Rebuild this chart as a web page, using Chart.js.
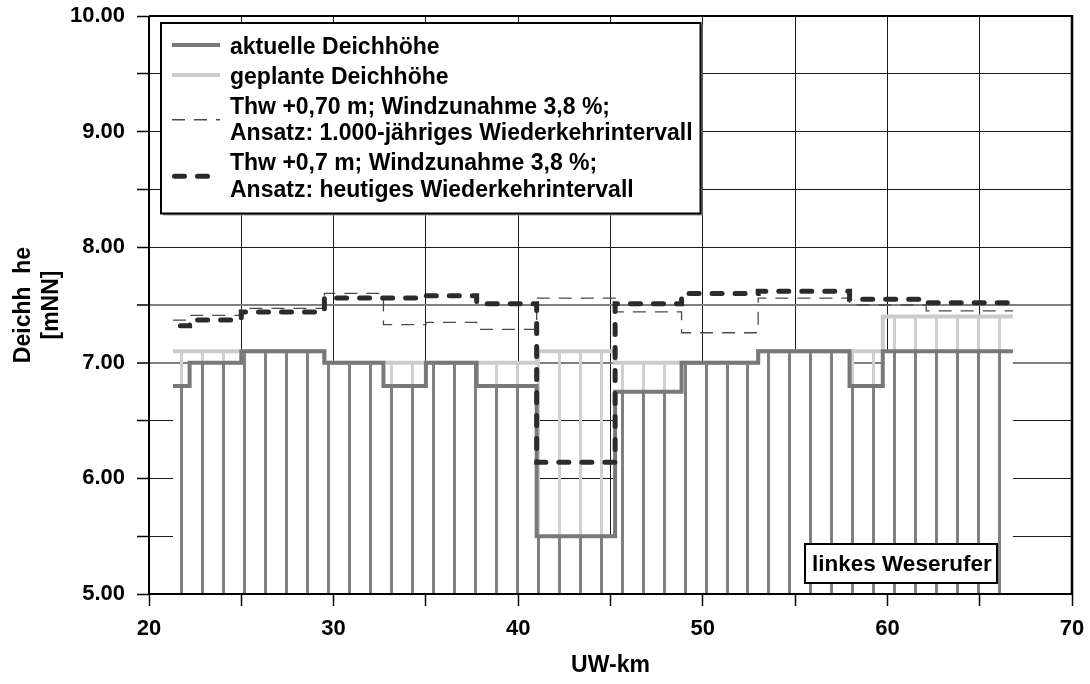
<!DOCTYPE html>
<html lang="de">
<head>
<meta charset="utf-8">
<title>Deichhöhen linkes Weserufer</title>
<style>
  html, body { margin: 0; padding: 0; background: #fff; }
  #wrap { width: 1090px; height: 684px; }
</style>
<script src="https://cdn.jsdelivr.net/npm/chart.js@4.4.1/dist/chart.umd.min.js"></script>
</head>
<body>
<div id="wrap"><canvas id="chart" width="1090" height="684"></canvas></div>
<script>
// Deichabschnitte: Grenzen in UW-km, je Abschnitt eine Höhe [mNN]
const kmDike        = [21.3, 22.2, 25.0, 29.5, 32.7, 35.0, 37.75, 41.0, 45.25, 48.85, 53.0, 57.95, 59.75, 66.8];
const currentHeight = [6.80, 7.00, 7.10, 7.00, 6.80, 7.00, 6.80, 5.50, 6.75, 7.00, 7.10, 6.80, 7.10];
const plannedHeight = [7.10, 7.10, 7.10, 7.00, 7.00, 7.00, 7.00, 7.10, 7.00, 7.00, 7.10, 7.10, 7.40];

// Bemessungswasserstände (Thw +0,70 m, Windzunahme 3,8 %)
const kmLevel1000   = [21.3, 22.2, 25.0, 29.5, 32.7, 35.0, 37.75, 41.0, 45.25, 48.85, 53.0, 57.95, 62.1, 66.8];
const level1000     = [7.37, 7.41, 7.47, 7.60, 7.33, 7.35, 7.29, 7.56, 7.44, 7.26, 7.56, 7.50, 7.45];
const kmLevelToday  = [21.7, 22.2, 25.0, 29.5, 35.0, 37.75, 41.0, 45.25, 48.85, 53.0, 57.95, 62.1, 66.8];
const levelToday    = [7.32, 7.37, 7.44, 7.56, 7.58, 7.51, 6.14, 7.51, 7.60, 7.62, 7.55, 7.52];

// Achsen
const xRange = [20, 70];
const yRange = [5, 10];
const xLabelKm = [20, 30, 40, 50, 60, 70];
const yLabelValues = [5, 6, 7, 8, 9, 10];

const seriesLabels = [
  'aktuelle Deichhöhe',
  'geplante Deichhöhe',
  'Thw +0,70 m; Windzunahme 3,8 %;\nAnsatz: 1.000-jähriges Wiederkehrintervall',
  'Thw +0,7 m; Windzunahme 3,8 %;\nAnsatz: heutiges Wiederkehrintervall'
];
const boxLabel = 'linkes Weserufer';

const FONT = 'Arial, "Liberation Sans", sans-serif';

// step series: one point per boundary, last value held to the end
function steps(km, values) {
  return km.map((x, i) => ({ x, y: values[Math.min(i, values.length - 1)] }));
}

// vertical hatching used to fill the dike profile
const HATCH_PITCH = 20.97;
const HATCH_PHASE = 8.8;
function hatch(chart, color, paper) {
  const xs = chart.scales && chart.scales.x;
  if (!xs || !chart.chartArea) return paper ? '#ffffff' : 'rgba(0,0,0,0)';
  const c = document.createElement('canvas');
  c.width = chart.width;
  c.height = 4;
  const g = c.getContext('2d');
  if (paper) { g.fillStyle = '#ffffff'; g.fillRect(0, 0, c.width, c.height); }
  g.fillStyle = color;
  for (let x = xs.getPixelForValue(kmDike[0]) + HATCH_PHASE; x < c.width; x += HATCH_PITCH) {
    g.fillRect(Math.round(x - 1.5), 0, 3, c.height);
  }
  return chart.ctx.createPattern(c, 'repeat');
}

// frame, legend box and the river-bank label
const decorations = {
  id: 'decorations',
  afterDatasetsDraw(chart) {
    const { ctx, chartArea: a } = chart;
    ctx.save();

    // plot frame
    ctx.strokeStyle = '#000';
    ctx.lineWidth = 2;
    ctx.beginPath();
    ctx.moveTo(a.left, a.top); ctx.lineTo(a.left, a.bottom); ctx.lineTo(a.right, a.bottom);
    ctx.moveTo(a.left, a.top); ctx.lineTo(a.right, a.top);
    ctx.stroke();
    ctx.lineWidth = 2.5;
    ctx.beginPath(); ctx.moveTo(a.right, a.top - 1); ctx.lineTo(a.right, a.bottom + 1); ctx.stroke();

    // legend
    ctx.font = 'bold 23px ' + FONT;
    const ds = chart.data.datasets;
    const items = ds.map(d => d.label.split('\n'));
    const textW = Math.max(...items.flat().map(t => ctx.measureText(t).width));
    const L = a.left + 12, T = a.top + 7;
    const textX = L + 69;
    const W = Math.max(textX - L + textW + 8, 539);
    const rows = [];
    let y = T + 24.5;
    items.forEach((lines, i) => {
      const ys = lines.map((_, k) => y + k * 26.5);
      rows.push({ i, lines, ys });
      y = ys[ys.length - 1] + 30;
    });
    const last = rows[rows.length - 1];
    const H = last.ys[last.ys.length - 1] + 23 - T;

    ctx.fillStyle = '#9a9a9a';
    ctx.fillRect(L + 2, T + 2, W, H);
    ctx.fillStyle = '#fff';
    ctx.fillRect(L, T, W, H);
    ctx.strokeStyle = '#000';
    ctx.lineWidth = 2;
    ctx.strokeRect(L, T, W, H);

    ctx.textBaseline = 'middle';
    ctx.textAlign = 'left';
    rows.forEach(r => {
      const d = ds[r.i];
      const sy = r.lines.length > 1 ? (r.ys[0] + r.ys[r.ys.length - 1]) / 2 - 1 : r.ys[0] - 2.5;
      ctx.save();
      ctx.strokeStyle = d.borderColor;
      ctx.lineWidth = d.borderWidth;
      ctx.lineCap = d.borderCapStyle || 'butt';
      ctx.setLineDash(d.borderDash || []);
      ctx.beginPath();
      ctx.moveTo(L + 11 + (d.borderCapStyle === 'round' ? d.borderWidth / 2 : 0), sy);
      ctx.lineTo(L + 59, sy);
      ctx.stroke();
      ctx.restore();
      ctx.fillStyle = '#000';
      r.lines.forEach((t, k) => ctx.fillText(t, textX, r.ys[k]));
    });

    // river-bank label
    const bw = 192, bh = 39;
    const bx = a.right - 267, by = a.bottom - 50;
    ctx.fillStyle = '#fff';
    ctx.fillRect(bx, by, bw, bh);
    ctx.strokeStyle = '#000';
    ctx.lineWidth = 2;
    ctx.strokeRect(bx, by, bw, bh);
    ctx.fillStyle = '#000';
    ctx.font = 'bold 22.5px ' + FONT;
    ctx.fillText(boxLabel, bx + 7, by + bh / 2 + 1);

    ctx.restore();
  }
};

const grayGrid = v => v === 7 || v === 7.5;

new Chart(document.getElementById('chart'), {
  type: 'line',
  data: {
    datasets: [
      {
        label: seriesLabels[0],
        data: steps(kmDike, currentHeight),
        borderColor: '#787878',
        borderWidth: 4,
        backgroundColor: c => hatch(c.chart, '#808080', true),
        fill: 'start',
        stepped: true,
        order: 2
      },
      {
        label: seriesLabels[1],
        data: steps(kmDike, plannedHeight),
        borderColor: '#cccccc',
        borderWidth: 4,
        backgroundColor: c => hatch(c.chart, '#d0d0d0', false),
        fill: { target: 0, below: 'rgba(0,0,0,0)' },
        stepped: true,
        order: 3
      },
      {
        label: seriesLabels[2],
        data: steps(kmLevel1000, level1000),
        borderColor: '#4a4a4a',
        borderWidth: 1.3,
        borderDash: [13, 9],
        fill: false,
        stepped: true,
        order: 1
      },
      {
        label: seriesLabels[3],
        data: steps(kmLevelToday, levelToday),
        borderColor: '#2b2b2b',
        borderWidth: 5,
        borderDash: [10, 13],
        borderCapStyle: 'round',
        fill: false,
        stepped: true,
        order: 0
      }
    ]
  },
  options: {
    responsive: false,
    animation: false,
    events: [],
    devicePixelRatio: 1,
    layout: { padding: { top: 16, right: 18, left: 0, bottom: 0 } },
    elements: { point: { radius: 0 }, line: { tension: 0, borderJoinStyle: 'miter' } },
    plugins: {
      legend: { display: false },
      tooltip: { enabled: false },
      filler: { drawTime: 'beforeDatasetsDraw' }
    },
    scales: {
      x: {
        type: 'linear',
        min: xRange[0],
        max: xRange[1],
        afterFit: s => { s.height = 90; s.paddingLeft = 0; s.paddingRight = 0; },
        border: { display: false },
        grid: { color: '#1a1a1a', lineWidth: 1, tickLength: 12, tickColor: '#000', tickWidth: 1.5 },
        ticks: {
          stepSize: 5,
          autoSkip: false,
          maxRotation: 0,
          padding: 10,
          color: '#000',
          font: { family: FONT, size: 22, weight: 'bold' },
          callback: v => xLabelKm.includes(v) ? String(v) : ''
        },
        title: {
          display: true,
          text: 'UW-km',
          color: '#000',
          font: { family: FONT, size: 23, weight: 'bold' },
          padding: { top: 0, bottom: 5 }
        }
      },
      y: {
        min: yRange[0],
        max: yRange[1],
        afterFit: s => { s.width = 149; s.paddingTop = 0; s.paddingBottom = 0; },
        border: { display: false },
        grid: {
          color: c => (c.tick && grayGrid(c.tick.value)) ? '#808080' : '#1a1a1a',
          lineWidth: c => (c.tick && grayGrid(c.tick.value)) ? 2 : 1,
          tickLength: 12,
          tickColor: '#000',
          tickWidth: 1.5
        },
        ticks: {
          stepSize: 0.5,
          autoSkip: false,
          padding: 12,
          color: '#000',
          font: { family: FONT, size: 22, weight: 'bold' },
          callback: v => yLabelValues.includes(v) ? v.toFixed(2) : ''
        },
        title: {
          display: true,
          text: ['Deichh  he', '[mNN]'],
          color: '#000',
          font: { family: FONT, size: 23, weight: 'bold', lineHeight: 1.25 },
          padding: { top: 9, bottom: 0 }
        }
      }
    }
  },
  plugins: [decorations]
});
</script>
</body>
</html>
